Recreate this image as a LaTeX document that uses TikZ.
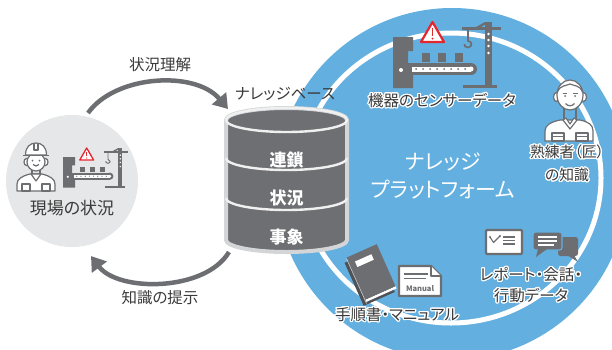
\documentclass[tikz,border=0pt]{standalone}
\usepackage{fontspec}
\setmainfont{Noto Sans CJK JP}[RawFeature=+palt]
\usepackage{contour}
\contourlength{1.2pt}
\contournumber{24}
\usetikzlibrary{arrows.meta}

\definecolor{platblue}{HTML}{63AFE0}
\definecolor{sitegrey}{HTML}{E6E7E8}
\definecolor{icongrey}{HTML}{6D6E71}
\definecolor{bookdark}{HTML}{505154}
\definecolor{drumgrey}{HTML}{6E6F72}
\definecolor{drumrim}{HTML}{D4D5D7}
\definecolor{textgrey}{HTML}{3A3A3A}
\definecolor{alertred}{HTML}{E5262E}

% plant icon (press, belt with parts, crane, alert sign); #1 = scale
\newcommand\plantmark[1]{%
  \begin{scope}[scale=#1, icongrey]
    % press
    \fill (0,0) -- (20,0) -- (20,14) -- (15,14) -- (15,29) -- (20,29) -- (20,51) -- (0,51) -- cycle;
    \fill[white] (8,33) circle[radius=2];
    % belt
    \fill (15,26) rectangle (78,38);
    \fill (78,32) circle[radius=6];
    \fill[white] (19,29.5) rectangle (78,34.5);
    \fill[white] (78,32) circle[radius=2.5];
    \foreach \dx in {23,30,...,72} \fill (\dx,32) circle[radius=1];
    % parts on the belt
    \foreach \bx in {29,45,62} \fill (\bx,16) rectangle ++(8,9);
    % crane
    \fill (92,-15) rectangle (99,51);
    \fill (70,48) rectangle (104,51);
    \fill (69,-10) rectangle (108,-7);
    \fill (83,-10) -- (92,-15) -- (92,-12.5) -- (88,-10) -- cycle;
    \foreach \ty in {-3,3,9,16} \fill[white] (95.5,\ty) circle[radius=1.3];
    \draw[line width=#1*1.6pt] (75,-7) -- (75,4) .. controls (79,4) and (80,10) .. (75,10.5) .. controls (72,10.5) and (71,8.5) .. (71.5,7);
    % alert sign
    \filldraw[fill=white, draw=alertred, line width=#1*2.2pt, line join=round] (28,5) -- (51,5) -- (39.5,-15) -- cycle;
    \fill[alertred] (38.6,-9) rectangle (40.4,-1);
    \fill[alertred] (39.5,1.6) circle[radius=1.1];
  \end{scope}}

\begin{document}
\begin{tikzpicture}[
  x=1pt, y=-1pt,
  font=\fontsize{15.5}{21}\selectfont,
  flow/.style={draw=icongrey, line width=4.5pt, -{Triangle[length=14pt, width=18pt]}},
  tagtext/.style={text=textgrey, inner sep=0pt, align=center},
  drumtext/.style={text=white, inner sep=0pt, font=\fontsize{17}{20}\selectfont\bfseries},
  icon/.style={draw=icongrey, fill=white, line width=1.2pt, line join=round},
  drumline/.style={draw=white!88!gray, line width=2.4pt},
]
\useasboundingbox (0,0) rectangle (612,349);
\clip (0,0) rectangle (612,349);

% Platform disc with its inner ring
\node[circle, fill=platblue, minimum size=352pt, inner sep=0pt] (platform) at (452,184) {};
\draw[white, line width=5pt] (451,178) ellipse[x radius=150, y radius=145];

% Shop floor (left)
\node[circle, fill=sitegrey, minimum size=132pt, inner sep=0pt] (site) at (72,181) {};

% site worker
\filldraw[icon] (17,191) -- (17,184) .. controls (17,179) and (22,176) .. (30,174) -- (42,174) .. controls (50,176) and (55,179) .. (55,184) -- (55,191) -- cycle;
\draw[icon] (32,168) -- (32,175) (40,168) -- (40,175);
\filldraw[icon] (31,174) -- (36,181) -- (41,174) -- cycle;
\draw[icon] (22,184) rectangle (30,191) (42,184) rectangle (50,191);
\filldraw[icon] (26.5,162) ellipse[x radius=2.5, y radius=3.5];
\filldraw[icon] (45.5,162) ellipse[x radius=2.5, y radius=3.5];
\filldraw[icon] (36,162) ellipse[x radius=9, y radius=9];
\filldraw[icon] (25.5,155) .. controls (25.5,147) and (30,143) .. (36,143) .. controls (42,143) and (46.5,147) .. (46.5,155) -- cycle;
\draw[icon, line width=1.6pt] (23,155.5) -- (49,155.5);
\draw[icon] (34,143.5) -- (34,150) -- (38,150) -- (38,143.5);
\fill[icongrey] (32.5,160.5) circle[radius=1] (39.5,160.5) circle[radius=1];
\draw[icon] (33,164.5) .. controls (35,166.5) and (37,166.5) .. (39,164.5);

\begin{scope}[shift={(63,157)}]
  \plantmark{0.6}
\end{scope}
\node[tagtext, font=\fontsize{17}{20}\selectfont] (site_lbl) at (72,208) {現場の状況};

% Loop arrows between shop floor and knowledge base
\coordinate (site_out) at (88,113);
\coordinate (kb_in) at (228,109);
\coordinate (kb_out) at (229,252);
\coordinate (site_in) at (91,256);
\draw[flow] (site_out) .. controls (115,75) and (195,70) .. (kb_in);
\draw[flow] (kb_out) .. controls (205,292) and (118,292) .. (site_in);
\node[tagtext] (grasp_lbl) at (160,65) {状況理解};
\node[tagtext] (offer_lbl) at (160,298) {知識の提示};

% Knowledge base drum
\draw[drumrim, line width=4pt, fill=drumgrey] (226,120) -- (226,240) arc[start angle=180, end angle=0, x radius=60.5, y radius=12] -- (347,120) arc[start angle=0, end angle=-180, x radius=60.5, y radius=12] -- cycle;
\draw[drumline] (286.5,120) ellipse[x radius=60.5, y radius=12];
\draw[drumline] (226,158) arc[start angle=180, end angle=0, x radius=60.5, y radius=12];
\draw[drumline] (226,198) arc[start angle=180, end angle=0, x radius=60.5, y radius=12];
\node[drumtext] (chain) at (286.5,160) {連鎖};
\node[drumtext] (state) at (286.5,198) {状況};
\node[drumtext] (event) at (286.5,237) {事象};
\node[tagtext] (kb_lbl) at (285,94) {ナレッジベース};

% Platform title
\node[text=white, align=center, inner sep=0pt, font=\fontsize{21}{28}\selectfont] (plat_lbl) at (443,176) {ナレッジ\\プラットフォーム};

% Sensor data from the machines
\begin{scope}[shift={(393,37)}]
  \plantmark{1}
\end{scope}
\node[tagtext] (sensor_lbl) at (442,101) {\contour{white}{機器のセンサーデータ}};

% veteran worker
\filldraw[icon] (545,141) -- (545,131) .. controls (545,125) and (551,122) .. (560,120) -- (580,120) .. controls (589,122) and (593,125) .. (593,131) -- (593,141) -- cycle;
\draw[icon] (564,108) -- (564,121) (576,108) -- (576,121);
\filldraw[icon] (563,120) -- (570,129) -- (577,120) -- (574,118) -- (570,124) -- (566,118) -- cycle;
\draw[icon] (552,133) rectangle (564,141) (576,133) rectangle (588,141);
\draw[icon] (552,136.5) -- (564,136.5) (576,136.5) -- (588,136.5);
\filldraw[icon] (556.5,97) ellipse[x radius=3, y radius=4.5];
\filldraw[icon] (583.5,97) ellipse[x radius=3, y radius=4.5];
\filldraw[icon] (570,95) ellipse[x radius=13, y radius=15];
\draw[icon] (557.5,92) .. controls (560,85) and (566,86) .. (570,84) .. controls (574,86) and (580,85) .. (582.5,92);
\fill[icongrey] (565,96) circle[radius=1] (575,96) circle[radius=1];
\draw[icon] (562.5,93.5) -- (567,93.5) (573,93.5) -- (577.5,93.5);
\draw[icon] (565.5,103.5) .. controls (568,106.5) and (572,106.5) .. (574.5,103.5);
\node[tagtext, font=\fontsize{14.8}{23}\selectfont] (expert_lbl) at (567,164) {\contour{white}{熟練者（匠）}\\\contour{white}{の知識}};

% Reports and conversations
\filldraw[icon, line width=2.4pt, rounded corners=1pt] (486,230) rectangle (522,254);
\draw[icongrey, line width=1.1pt, line join=round] (490,237) -- (493.5,242.5) -- (496.5,239.5) -- (500,236);
\fill[icongrey] (490,237) circle[radius=1.1] (500,236) circle[radius=1.1];
\draw[icongrey, line width=1.3pt] (503,237) -- (515,237) (503,240.5) -- (515,240.5) (503,244) -- (515,244);
\fill[icongrey, rounded corners=2.5pt] (558,237) rectangle (578,256);
\fill[icongrey] (567,255) -- (574,255) -- (578,262) -- cycle;
\filldraw[fill=icongrey, draw=platblue, line width=1.2pt, rounded corners=2.5pt] (533,232) rectangle (562,250);
\fill[icongrey] (538,249) -- (547,249) -- (536,257) -- cycle;
\draw[white, line width=1.4pt] (538,237) -- (557,237) (538,241) -- (557,241) (538,245) -- (554,245);
\node[tagtext] (report_lbl) at (531,285.5) {\contour{white}{レポート・会話・}\\\contour{white}{行動データ}};

% handbook
\begin{scope}[shift={(371,273)}, rotate=24]
  \fill[bookdark] (-20,-20) rectangle (14,27);
  \fill[white] (-16,22) rectangle (17,24.5);
  \fill[icongrey] (-16,-24) rectangle (17,22);
  \draw[white!70!icongrey, line width=0.6pt] (-16.5,-23) -- (-16.5,26);
  \fill[white] (-10,-17) rectangle (8,-11);
\end{scope}

% manual sheet
\filldraw[icon, line width=2.2pt] (399,266) -- (431,266) -- (441,276) -- (441,296) -- (399,296) -- cycle;
\draw[icon, line width=1.6pt] (431,266) -- (431,276) -- (441,276);
\draw[icongrey, line width=1.2pt] (404,274) -- (428,274) (404,278.5) -- (426,278.5);
\node[font=\fontsize{7.5}{8}\selectfont\bfseries, text=icongrey, inner sep=0pt] (manual_txt) at (420,288.5) {Manual};
\node[tagtext] (manual_lbl) at (397,315) {\contour{white}{手順書・マニュアル}};

\end{tikzpicture}
\end{document}
